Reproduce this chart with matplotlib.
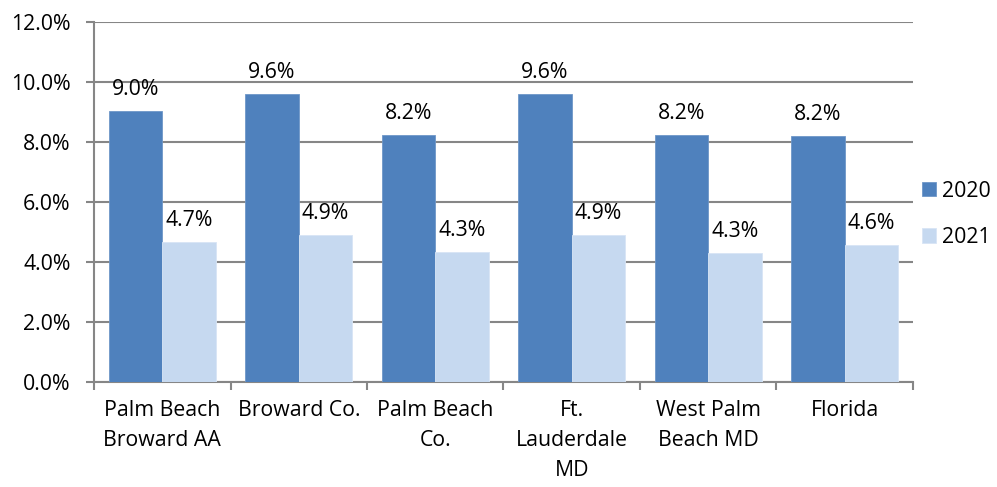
import numpy as np
import matplotlib.pyplot as plt

categories = ["Palm Beach\nBroward AA", "Broward Co.", "Palm Beach\nCo.",
              "Ft.\nLauderdale\nMD", "West Palm\nBeach MD", "Florida"]
years = ["2020", "2021"]
vals_2020 = [9.03, 9.59, 8.22, 9.59, 8.23, 8.19]
vals_2021 = [4.67, 4.90, 4.32, 4.90, 4.31, 4.57]

plt.rcParams['font.family'] = ['Open Sans', 'DejaVu Sans']
grey = "#868686"
fs = 15.3

fig = plt.figure(figsize=(9.97, 4.87), dpi=100)
ax = fig.add_axes([0.0943, 0.2156, 0.8214, 0.7392])

x = np.arange(len(categories))
w = 0.392
b1 = ax.bar(x - w/2, vals_2020, w, color="#4F81BD", edgecolor="#6f97c8", linewidth=0.6, label=years[0], zorder=3)
b2 = ax.bar(x + w/2, vals_2021, w, color="#C6D9F0", edgecolor="#d8e5f5", linewidth=0.6, label=years[1], zorder=3)

# value labels above each bar
for bars, vals in [(b1, vals_2020), (b2, vals_2021)]:
    for r, v in zip(bars, vals):
        ax.annotate(f"{v:.1f}%", (r.get_x() + r.get_width()/2, v), xytext=(0, 8),
                    textcoords="offset points", ha="center", va="bottom", fontsize=fs)

ax.set_ylim(0, 12)
ax.set_xlim(-0.5, len(categories) - 0.5)
ax.set_yticks(np.arange(0, 13, 2))
ax.set_yticklabels([f"{t:.1f}%" for t in np.arange(0, 13, 2)], fontsize=fs)
ax.yaxis.grid(True, color=grey, linewidth=1.5, zorder=0)
ax.set_axisbelow(True)

ax.set_xticks(x)
ax.set_xticklabels(categories, fontsize=fs, linespacing=1.55, va="top")
ax.tick_params(axis="x", length=0, pad=13)
ax.set_xticks(np.arange(-0.5, len(categories)), minor=True)
ax.tick_params(axis="x", which="minor", length=6, width=1.5, color=grey)
ax.tick_params(axis="y", length=6, width=1.5, color=grey, pad=11)

for s in ["top", "right"]:
    ax.spines[s].set_visible(False)
for s in ["left", "bottom"]:
    ax.spines[s].set_color(grey)
    ax.spines[s].set_linewidth(1.5)

fig.legend(handles=[b1, b2], labels=years, loc="center left", bbox_to_anchor=(0.925, 0.56),
           frameon=False, fontsize=fs, handlelength=0.65, handleheight=0.65, borderpad=0,
           borderaxespad=0, handletextpad=0.3, labelspacing=1.2)

plt.savefig("out.png", dpi=100)
